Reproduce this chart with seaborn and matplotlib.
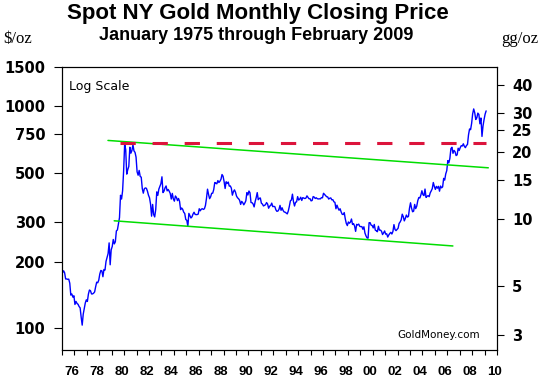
import numpy as np
import pandas as pd
import seaborn as sns
import matplotlib.pyplot as plt
from matplotlib.ticker import FixedLocator, NullLocator, FixedFormatter
from matplotlib.transforms import ScaledTranslation

# monthly closing price, $/oz, Jan 1975 - Feb 2009
close_1970s = [
    178.0, 181.8, 178.2, 167.0, 167.0, 166.3, 166.7, 159.8, 141.3, 142.9, 138.3, 140.3,  # 1975
    128.2, 132.3, 129.6, 128.4, 125.5, 123.8, 112.5, 103.5, 116.0, 123.2, 130.3, 134.5,  # 1976
    132.3, 142.8, 148.9, 147.8, 143.0, 143.0, 144.1, 146.0, 154.1, 161.5, 160.5, 165.0,  # 1977
    175.8, 182.3, 181.6, 170.9, 184.2, 183.1, 200.3, 208.7, 217.1, 242.6, 193.4, 226.0,  # 1978
    233.7, 251.3, 240.1, 245.3, 274.6, 277.5, 296.5, 315.1, 397.3, 382.0, 415.7, 512.0,  # 1979
]
close_1980s = [
    675.0, 637.0, 494.5, 518.0, 535.5, 653.5, 614.3, 631.3, 670.0, 629.0, 619.8, 589.8,  # 1980
    506.5, 489.0, 513.8, 482.8, 479.3, 426.0, 406.0, 425.0, 428.8, 427.0, 414.5, 397.5,  # 1981
    387.0, 362.6, 320.0, 361.3, 325.3, 317.5, 342.9, 411.5, 397.0, 423.3, 436.0, 448.0,  # 1982
    481.0, 408.5, 414.8, 429.3, 437.5, 416.0, 422.0, 414.3, 405.0, 382.0, 405.0, 382.4,  # 1983
    373.8, 394.3, 388.5, 375.8, 384.3, 373.1, 342.4, 348.3, 343.8, 333.5, 329.0, 309.0,  # 1984
    306.7, 287.8, 329.3, 321.4, 314.0, 317.8, 327.0, 333.3, 326.0, 325.1, 325.3, 326.8,  # 1985
    345.5, 338.2, 344.0, 345.7, 343.2, 345.5, 357.5, 384.7, 423.2, 401.0, 383.5, 390.9,  # 1986
    405.5, 405.9, 421.3, 453.3, 451.0, 447.3, 462.5, 453.4, 459.5, 468.8, 492.5, 484.1,  # 1987
    458.0, 426.2, 456.9, 449.0, 455.5, 436.6, 437.6, 427.8, 397.7, 412.4, 420.2, 410.2,  # 1988
    394.0, 387.0, 383.2, 376.9, 361.4, 373.0, 368.3, 359.8, 366.5, 375.3, 408.2, 398.6,  # 1989
]
close_1990s = [
    415.1, 407.7, 368.5, 367.8, 363.1, 352.2, 372.3, 387.8, 408.4, 379.5, 384.9, 386.2,  # 1990
    366.0, 362.7, 355.7, 357.8, 360.4, 368.4, 362.9, 347.4, 354.9, 357.5, 366.3, 353.2,  # 1991
    354.1, 353.1, 341.7, 336.4, 337.5, 343.4, 357.8, 340.0, 349.0, 339.3, 334.2, 333.3,  # 1992
    330.5, 327.6, 337.8, 354.3, 374.8, 378.5, 401.8, 371.6, 355.5, 369.6, 370.9, 391.8,  # 1993
    378.0, 381.6, 389.2, 376.5, 387.6, 386.0, 384.0, 385.8, 394.9, 389.1, 383.1, 383.3,  # 1994
    374.9, 376.4, 392.0, 389.8, 384.3, 387.1, 383.4, 382.4, 383.0, 382.7, 387.8, 387.0,  # 1995
    405.6, 400.7, 396.4, 391.3, 390.6, 382.0, 385.3, 386.5, 379.0, 379.5, 371.3, 369.3,  # 1996
    345.5, 358.6, 348.2, 340.2, 345.6, 334.6, 326.4, 325.4, 332.1, 311.4, 296.8, 290.2,  # 1997
    301.3, 297.4, 301.0, 310.7, 293.6, 296.3, 288.9, 273.4, 293.9, 292.3, 294.7, 287.8,  # 1998
    287.1, 287.3, 279.5, 286.6, 268.6, 261.0, 255.6, 254.8, 299.0, 299.1, 291.4, 290.3,  # 1999
]
close_2000s = [
    283.3, 293.7, 276.8, 275.1, 272.3, 288.2, 276.8, 277.0, 273.7, 264.5, 269.1, 274.5,  # 2000
    265.6, 266.7, 257.7, 263.2, 267.5, 270.6, 265.9, 273.0, 293.1, 278.8, 275.5, 279.0,  # 2001
    282.3, 296.9, 301.4, 308.2, 326.6, 318.5, 304.7, 312.8, 323.7, 316.9, 319.1, 347.2,  # 2002
    367.5, 347.5, 334.9, 336.8, 361.4, 346.0, 354.8, 375.6, 388.0, 386.3, 398.4, 416.3,  # 2003
    399.8, 395.9, 423.7, 388.5, 393.3, 395.8, 391.4, 407.3, 415.7, 425.6, 453.4, 435.6,  # 2004
    422.2, 435.5, 427.5, 435.7, 414.5, 437.1, 429.0, 433.3, 473.3, 465.0, 495.7, 513.0,  # 2005
    568.8, 556.0, 582.0, 644.0, 653.0, 613.5, 632.5, 623.5, 599.3, 603.8, 646.7, 632.0,  # 2006
    650.5, 664.2, 661.8, 677.0, 659.1, 650.5, 665.5, 672.0, 743.0, 789.5, 783.5, 836.5,  # 2007
    923.3, 971.5, 933.5, 871.0, 885.8, 930.3, 918.0, 833.0, 884.5, 730.8, 814.5, 869.8,  # 2008
    919.5, 952.0,                                                                        # 2009
]

# trend lines (decimal year, $/oz)
upper_x = [1978.7, 2009.3]
upper_y = [701, 528]
lower_x = [1979.2, 2006.45]
lower_y = [305, 235]
peak_x = [1979.65, 2009.1]
peak_y = [680, 680]

usd_ticks = [100, 200, 300, 500, 750, 1000, 1500]
gg_ticks = [3, 5, 10, 15, 20, 25, 30, 40]
year_ticks = list(range(1975, 2011))
year_labels = ['%02d' % (y % 100) for y in range(1976, 2011, 2)]
GRAMS_PER_OZ = 31.1035

prices = close_1970s + close_1980s + close_1990s + close_2000s
dates = pd.date_range('1975-01-01', periods=len(prices), freq='MS')
df = pd.DataFrame({'t': dates.year + (dates.month - 0.5) / 12, 'price': prices})

sns.set_style('ticks')
plt.rcParams['font.family'] = ['DejaVu Sans']
plt.rcParams['text.color'] = 'black'
plt.rcParams['xtick.color'] = 'black'
plt.rcParams['ytick.color'] = 'black'
plt.rcParams['axes.labelcolor'] = 'black'

fig = plt.figure(figsize=(5.42, 3.78), dpi=100)
ax = fig.add_axes([62 / 542, 28 / 378, 435 / 542, 283 / 378])

sns.lineplot(data=df, x='t', y='price', ax=ax, color='#0000ff', linewidth=1.0)
sns.lineplot(x=upper_x, y=upper_y, ax=ax, color='#00dd00', linewidth=1.1)
sns.lineplot(x=lower_x, y=lower_y, ax=ax, color='#00dd00', linewidth=1.1)
ax.plot(peak_x, peak_y, color='#dc143c', linewidth=2.2, dashes=(5, 5.5), solid_capstyle='butt')

ax.set_yscale('log')
ax.set_ylim(80, 1500)
ax.set_xlim(1975, 2010)
ax.yaxis.set_major_locator(FixedLocator(usd_ticks))
ax.yaxis.set_major_formatter(FixedFormatter([str(v) for v in usd_ticks]))
ax.yaxis.set_minor_locator(NullLocator())
ax.set_xticks(year_ticks)
ax.set_xticklabels([''] + [year_labels[i // 2] if i % 2 == 0 else '' for i in range(35)])
ax.set_xlabel('')
ax.set_ylabel('')

ax.tick_params(axis='y', length=6, width=0.8, pad=6, labelsize=10.5, colors='black')
ax.tick_params(axis='x', length=3.6, width=0.8, pad=8, colors='black')
for lab in ax.get_yticklabels():
    lab.set_fontweight('bold')
for lab in ax.get_xticklabels():
    lab.set_family('Liberation Sans')
    lab.set_fontweight('bold')
    lab.set_fontsize(9.5)
    lab.set_transform(lab.get_transform() + ScaledTranslation(-2.5 / 100, 0, fig.dpi_scale_trans))

ax2 = ax.twinx()
ax2.set_yscale('log')
ax2.set_ylim(80 / GRAMS_PER_OZ, 1500 / GRAMS_PER_OZ)
ax2.yaxis.set_major_locator(FixedLocator(gg_ticks))
ax2.yaxis.set_major_formatter(FixedFormatter([str(v) for v in gg_ticks]))
ax2.yaxis.set_minor_locator(NullLocator())
ax2.tick_params(axis='y', length=5, width=0.8, pad=6, labelsize=10.5, colors='black')
for lab in ax2.get_yticklabels():
    lab.set_fontweight('bold')

for a in (ax, ax2):
    for s in a.spines.values():
        s.set_visible(True)
        s.set_color('black')
        s.set_linewidth(0.8)

ax.text(0.016, 0.955, 'Log Scale', transform=ax.transAxes, fontsize=9, va='top', ha='left')
ax.text(0.96, 0.035, 'GoldMoney.com', transform=ax.transAxes, fontsize=7.5, va='bottom', ha='right')

fig.text(258 / 542, 1 - 18.5 / 378, 'Spot NY Gold Monthly Closing Price', family='Liberation Sans',
         fontweight='bold', fontsize=16, ha='center', va='baseline')
fig.text(256 / 542, 1 - 39.5 / 378, 'January 1975 through February 2009', family='Liberation Sans',
         fontweight='bold', fontsize=13, ha='center', va='baseline')
fig.text(3 / 542, 1 - 43 / 378, '$/oz', family='Liberation Serif', fontsize=12, ha='left', va='baseline')
fig.text(538 / 542, 1 - 43 / 378, 'gg/oz', family='Liberation Serif', fontsize=12, ha='right', va='baseline')

fig.savefig('out.png', dpi=100)
